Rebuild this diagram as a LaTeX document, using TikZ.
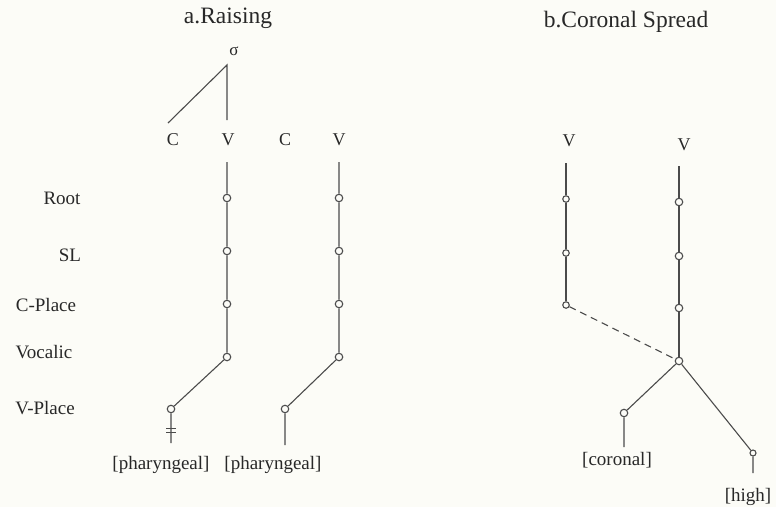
\documentclass[tikz,border=0pt]{standalone}
\usepackage{fontspec}
\setmainfont{Liberation Serif}
\begin{document}
\begin{tikzpicture}[x=1pt,y=-1pt,
  every node/.style={text=ink},
  lbl/.style={font=\fontsize{19}{22}\selectfont, inner sep=0pt},
  ttl/.style={font=\fontsize{23.5}{28}\selectfont, inner sep=0pt},
  seg/.style={font=\fontsize{18}{22}\selectfont, inner sep=0pt},
  nd/.style={circle, draw=ln, line width=1.1pt, fill=bg, inner sep=0pt, minimum size=7.5pt},
  snd/.style={nd, minimum size=6pt},
  edge/.style={draw=ln, line width=1.1pt},
  dedge/.style={edge, dash pattern=on 7pt off 5pt}]
\definecolor{ink}{RGB}{40,40,40}
\definecolor{ln}{RGB}{75,75,75}
\definecolor{bg}{RGB}{252,252,247}
\useasboundingbox[fill=bg] (0,0) rectangle (776,507);

% titles
\node[ttl] (ta) at (228,18) {a.Raising};
\node[ttl] (tb) at (626,22) {b.Coronal Spread};

% tier labels
\node[lbl] (lroot) at (62,198) {Root};
\node[lbl] (lsl) at (70,255) {SL};
\node[lbl] (lcp) at (46,305) {C-Place};
\node[lbl] (lvoc) at (44,352) {Vocalic};
\node[lbl] (lvp) at (45,408) {V-Place};

% ---------- a. Raising ----------
\node[font=\fontsize{17}{20}\selectfont, inner sep=0pt] (sig) at (234,51) {σ};
\coordinate (sigb) at (227,65);
\coordinate (sigc) at (168,123);
\coordinate (sigv) at (227,120);
\draw[edge] (sigc) -- (sigb) -- (sigv);

\node[seg] (c1) at (173,140) {C};
\node[seg] (v1) at (228,140) {V};
\node[seg] (c2) at (285,140) {C};
\node[seg] (v2) at (339,140) {V};

% column 1
\coordinate (t1) at (227,162);
\node[nd] (r1) at (227,198) {};
\node[nd] (s1) at (227,251) {};
\node[nd] (cp1) at (227,304) {};
\node[nd] (vo1) at (227,357) {};
\node[nd] (vp1) at (171,409) {};
\coordinate (e1) at (171,443);
\draw[edge] (t1) -- (r1) -- (s1) -- (cp1) -- (vo1) -- (vp1) -- (e1);
\draw[edge] (166,428.5) -- (176,428.5) (166,432.5) -- (176,432.5);
\node[lbl] (ph1) at (161,465) {[pharyngeal]};

% column 2
\coordinate (t2) at (339,162);
\node[nd] (r2) at (339,198) {};
\node[nd] (s2) at (339,251) {};
\node[nd] (cp2) at (339,304) {};
\node[nd] (vo2) at (339,357) {};
\node[nd] (vp2) at (285,409) {};
\coordinate (e2) at (285,445);
\draw[edge] (t2) -- (r2) -- (s2) -- (cp2) -- (vo2) -- (vp2) -- (e2);
\node[lbl] (ph2) at (273,465) {[pharyngeal]};

% ---------- b. Coronal Spread ----------
\node[seg] (bv1) at (569,141) {V};
\node[seg] (bv2) at (684,145) {V};

\coordinate (bt1) at (566,163);
\node[nd, minimum size=6.5pt] (br1) at (566,199) {};
\node[nd, minimum size=6.5pt] (bs1) at (566,253) {};
\node[nd, minimum size=6.5pt] (bcp1) at (566,305) {};
\draw[edge] (bt1) -- (br1) -- (bs1) -- (bcp1);

\coordinate (bt2) at (679,166);
\node[nd] (br2) at (679,202) {};
\node[nd] (bs2) at (679,256) {};
\node[nd] (bcp2) at (679,308) {};
\node[nd] (bvo2) at (679,361) {};
\draw[edge] (bt2) -- (br2) -- (bs2) -- (bcp2) -- (bvo2);
\draw[dedge] (bcp1) -- (bvo2);

\node[nd] (bvp) at (624,413) {};
\coordinate (be1) at (624,447);
\draw[edge] (bvo2) -- (bvp) -- (be1);
\node[lbl] (cor) at (617,460) {[coronal]};

\node[snd] (bhi) at (753,453) {};
\coordinate (be2) at (753,473);
\draw[edge] (bvo2) -- (bhi) -- (be2);
\node[lbl] (hi) at (748,497) {[high]};
\end{tikzpicture}
\end{document}
